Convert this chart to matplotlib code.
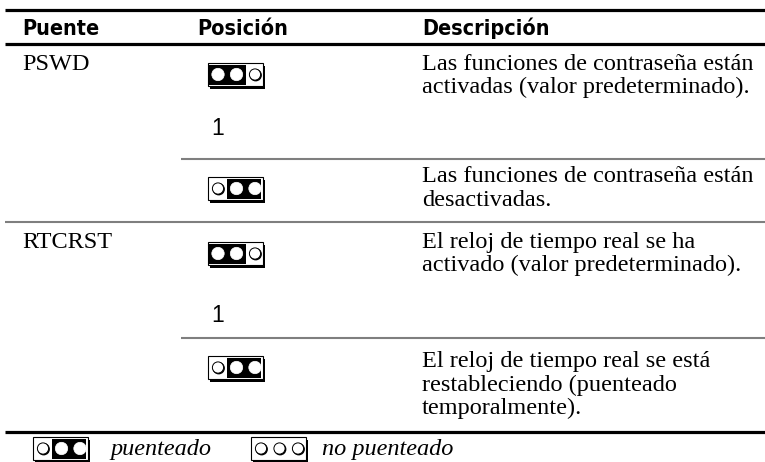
import matplotlib
matplotlib.use("Agg")
import matplotlib.pyplot as plt
from matplotlib.patches import Rectangle, Circle
from matplotlib import font_manager
from matplotlib.font_manager import FontProperties

# ---------------- data ----------------
header_labels = ["Puente", "Posición", "Descripción"]
puentes = ["PSWD", "RTCRST"]
# jumper state per sub-row: which of the 3 pins are covered by the jumper
posiciones = [(True, True, False), (False, True, True),
              (True, True, False), (False, True, True)]
pin_one_label = ["1", "", "1", ""]
descripciones = [
    ["Las funciones de contraseña están", "activadas (valor predeterminado)."],
    ["Las funciones de contraseña están", "desactivadas."],
    ["El reloj de tiempo real se ha", "activado (valor predeterminado)."],
    ["El reloj de tiempo real se está", "restableciendo (puenteado", "temporalmente)."],
]
leyenda_labels = ["puenteado", "no puenteado"]
leyenda_estados = [(False, True, True), (False, False, False)]

# ---------------- fonts ----------------
head_fp = None
head_size = 15.5
for f in font_manager.fontManager.ttflist:
    fn = f.fname.lower()
    if "liberationsansnarrow-bold." in fn:
        head_fp = FontProperties(fname=f.fname)
        head_size = 17
        break
if head_fp is None:
    for f in font_manager.fontManager.ttflist:
        fn = f.fname.lower()
        if "dejavusanscondensed-bold." in fn:
            head_fp = FontProperties(fname=f.fname)
            head_size = 15.5
            break
if head_fp is None:
    head_fp = FontProperties(family="Liberation Sans", weight="bold")
    head_size = 15

serif = "Liberation Serif"
body_size = 17.5

fig = plt.figure(figsize=(7.65, 4.62), dpi=100)
ax = fig.add_axes([0, 0, 1, 1])
ax.set_xlim(0, 765)
ax.set_ylim(462, 0)
ax.axis("off")


def draw_jumper(x0, y0, covered):
    w, h = 55, 23
    ax.add_patch(Rectangle((x0 + 2.5, y0 + 2.5), w, h, fc="black", ec="none", zorder=2))
    ax.add_patch(Rectangle((x0, y0), w, h, fc="white", ec="black", lw=0.8, zorder=3))
    pins = [x0 + 10, x0 + 28.5, x0 + 47]
    idx = [i for i, c in enumerate(covered) if c]
    if idx:
        xa = pins[idx[0]] - 9.5
        xb = pins[idx[-1]] + 9.5
        xa = max(xa, x0 + 1.5)
        xb = min(xb, x0 + w - 1.5)
        ax.add_patch(Rectangle((xa, y0 + 1.5), xb - xa, h - 3, fc="black", ec="none", zorder=4))
    cy = y0 + h / 2
    for i, px in enumerate(pins):
        if covered[i]:
            ax.add_patch(Circle((px, cy), 6.2, fc="white", ec="white", lw=0.5, zorder=5))
        else:
            ax.add_patch(Circle((px + 0.7, cy + 0.7), 6.2, fc="black", ec="none", zorder=5))
            ax.add_patch(Circle((px, cy), 5.6, fc="white", ec="black", lw=0.7, zorder=6))


# ---------------- rules ----------------
black_lw = 2.3
gray_lw = 1.5
gray = "#7f7f7f"
ax.plot([5, 765], [10, 10], color="black", lw=black_lw, solid_capstyle="butt")
ax.plot([5, 765], [44, 44], color="black", lw=black_lw, solid_capstyle="butt")
ax.plot([181, 765], [158.5, 158.5], color=gray, lw=gray_lw, solid_capstyle="butt")
ax.plot([5, 765], [222, 222], color=gray, lw=gray_lw, solid_capstyle="butt")
ax.plot([181, 765], [337.5, 337.5], color=gray, lw=gray_lw, solid_capstyle="butt")
ax.plot([5, 765], [432, 432], color="black", lw=black_lw, solid_capstyle="butt")

# ---------------- header ----------------
head_x = [22, 197, 422]
for x, lab in zip(head_x, header_labels):
    ax.text(x, 35, lab, fontproperties=head_fp, fontsize=head_size,
            va="baseline", ha="left", color="black")

# ---------------- body ----------------
puente_y = [70, 248]
for y, p in zip(puente_y, puentes):
    ax.text(22, y, p, fontfamily=serif, fontsize=body_size, va="baseline", ha="left")

icon_top = [63, 177, 242, 356]
one_y = [135, None, 322, None]
desc_y0 = [70, 182, 248, 367]
line_gap = 23.5
for i in range(4):
    draw_jumper(208, icon_top[i], posiciones[i])
    if pin_one_label[i]:
        ax.text(211, one_y[i], pin_one_label[i], fontfamily="Liberation Sans",
                fontsize=16.5, va="baseline", ha="left")
    for j, line in enumerate(descripciones[i]):
        ax.text(422, desc_y0[i] + j * line_gap, line, fontfamily=serif,
                fontsize=body_size, va="baseline", ha="left")

# ---------------- legend ----------------
draw_jumper(33, 437, leyenda_estados[0])
ax.text(110, 455, leyenda_labels[0], fontfamily=serif, fontstyle="italic",
        fontsize=body_size, va="baseline", ha="left")
draw_jumper(251, 437, leyenda_estados[1])
ax.text(322, 455, leyenda_labels[1], fontfamily=serif, fontstyle="italic",
        fontsize=body_size, va="baseline", ha="left")

fig.savefig("out.png", dpi=100)
